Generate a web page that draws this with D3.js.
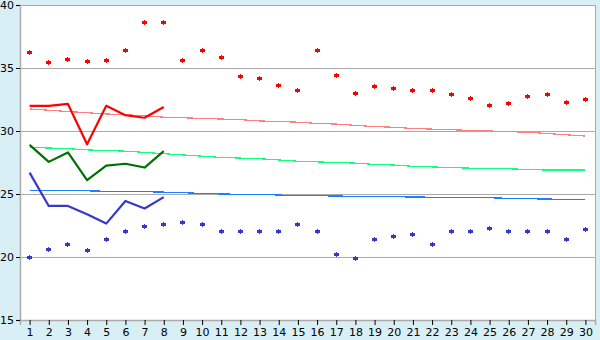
<!DOCTYPE html>
<html>
<head>
<meta charset="utf-8">
<script src="https://cdnjs.cloudflare.com/ajax/libs/d3/7.8.5/d3.min.js"></script>
<style>
  body { margin: 0; background: #d9eff6; }
  svg { display: block; }
  .tick text { font-family: "DejaVu Sans", sans-serif; font-size: 11px; fill: #000; }
</style>
</head>
<body>
<div id="chart"></div>
<script>
var days = d3.range(1, 31);
var yTicks = [15, 20, 25, 30, 35, 40];

// daily extremes (markers)
var maxTemp = [36.25, 35.45, 35.7, 35.55, 35.6, 36.4, 38.65, 38.65, 35.6, 36.4,
               35.85, 34.35, 34.2, 33.65, 33.25, 36.4, 34.4, 33.0, 33.55, 33.4,
               33.25, 33.25, 32.9, 32.6, 32.05, 32.2, 32.75, 32.9, 32.3, 32.5];
var minTemp = [20.0, 20.6, 21.0, 20.55, 21.4, 22.05, 22.4, 22.6, 22.75, 22.55,
               22.05, 22.05, 22.05, 22.05, 22.55, 22.05, 20.2, 19.9, 21.4, 21.65,
               21.8, 21.0, 22.05, 22.05, 22.3, 22.05, 22.05, 22.05, 21.35, 22.15];

// current month, first 8 days
var curHigh = [32.0, 32.0, 32.15, 28.95, 32.0, 31.25, 31.05, 31.9];
var curMean = [28.9, 27.55, 28.3, 26.1, 27.25, 27.4, 27.1, 28.4];
var curLow  = [26.7, 24.05, 24.05, 23.4, 22.65, 24.45, 23.85, 24.75];

// normals
var normHigh = [31.75, 31.65, 31.55, 31.45, 31.35, 31.3, 31.2, 31.1, 31.05, 31.0,
                30.95, 30.9, 30.8, 30.75, 30.7, 30.6, 30.55, 30.45, 30.35, 30.3,
                30.2, 30.15, 30.1, 30.05, 30.0, 29.95, 29.9, 29.8, 29.7, 29.6];
var normMean = [28.7, 28.65, 28.6, 28.5, 28.45, 28.4, 28.3, 28.2, 28.1, 28.0,
                27.9, 27.85, 27.8, 27.7, 27.6, 27.55, 27.5, 27.45, 27.35, 27.3,
                27.2, 27.15, 27.1, 27.05, 27.0, 27.0, 26.95, 26.9, 26.9, 26.9];
var normLow  = [25.3, 25.3, 25.28, 25.25, 25.22, 25.2, 25.18, 25.15, 25.1, 25.05,
                25.0, 24.98, 24.96, 24.92, 24.88, 24.86, 24.84, 24.82, 24.8, 24.78,
                24.76, 24.75, 24.74, 24.72, 24.7, 24.66, 24.62, 24.6, 24.58, 24.58];

var W = 600, H = 340;
var margin = { top: 5, right: 5, bottom: 20, left: 20 };
var width = W - margin.left - margin.right,
    height = H - margin.top - margin.bottom;

var svg = d3.select("#chart").append("svg")
    .attr("width", W)
    .attr("height", H);

var g = svg.append("g")
    .attr("transform", "translate(" + margin.left + "," + margin.top + ")");

var x = d3.scaleLinear().domain([0.5, 30.5]).range([0, width]);
var y = d3.scaleLinear().domain([15, 40]).range([height, 0]);

// plot background
g.append("rect")
    .attr("width", width)
    .attr("height", height)
    .attr("fill", "#fff");

// grid
g.selectAll(".grid")
    .data(yTicks)
    .enter().append("line")
    .attr("class", "grid")
    .attr("x1", 0).attr("x2", width)
    .attr("y1", function(d) { return Math.round(y(d)) + 0.5; })
    .attr("y2", function(d) { return Math.round(y(d)) + 0.5; })
    .attr("stroke", "#aaa");

// right border
g.append("line")
    .attr("x1", width + 0.5).attr("x2", width + 0.5)
    .attr("y1", 0).attr("y2", height)
    .attr("stroke", "#aaa");

// axes
var xAxis = g.append("g")
    .attr("transform", "translate(0," + height + ")")
    .call(d3.axisBottom(x).tickValues(days).tickSize(5).tickPadding(3).tickFormat(d3.format("d")));
var yAxis = g.append("g")
    .call(d3.axisLeft(y).tickValues(yTicks).tickSize(4).tickPadding(2));

[xAxis, yAxis].forEach(function(a) {
    a.select(".domain").attr("stroke", "#aaa").attr("stroke-width", 1.5);
    a.selectAll(".tick line").attr("stroke", "#000");
});
xAxis.selectAll(".tick text").attr("dy", "0.75em");

// normal lines
var line = d3.line()
    .x(function(d, i) { return x(days[i]); })
    .y(function(d) { return y(d); });

var normals = [
    { values: normHigh, color: "#ff8080" },
    { values: normMean, color: "#10ff80" },
    { values: normLow,  color: "#1a80ff" }
];
normals.forEach(function(s) {
    g.append("path")
        .attr("d", line(s.values))
        .attr("fill", "none")
        .attr("stroke", s.color)
        .attr("stroke-width", 1.2)
        .attr("shape-rendering", "crispEdges");
});

// current month lines
var current = [
    { values: curHigh, color: "#ff0000" },
    { values: curMean, color: "#007000" },
    { values: curLow,  color: "#3838c8" }
];
current.forEach(function(s) {
    g.append("path")
        .attr("d", line(s.values))
        .attr("fill", "none")
        .attr("stroke", s.color)
        .attr("stroke-width", 2.2)
        .attr("stroke-linejoin", "round");
});

// extreme markers (small pixel plus)
var marker = "M0,-2h1v1h2v3h-2v1h-1v-1h-2v-3h2z";
function drawMarkers(values, color) {
    g.selectAll(null)
        .data(values)
        .enter().append("path")
        .attr("d", marker)
        .attr("transform", function(d, i) {
            return "translate(" + Math.round(x(days[i]) - 0.5) + "," + Math.round(y(d) - 0.5) + ")";
        })
        .attr("fill", color)
        .attr("shape-rendering", "crispEdges");
}
drawMarkers(maxTemp, "#ff0000");
drawMarkers(minTemp, "#3838c8");
</script>
</body>
</html>
